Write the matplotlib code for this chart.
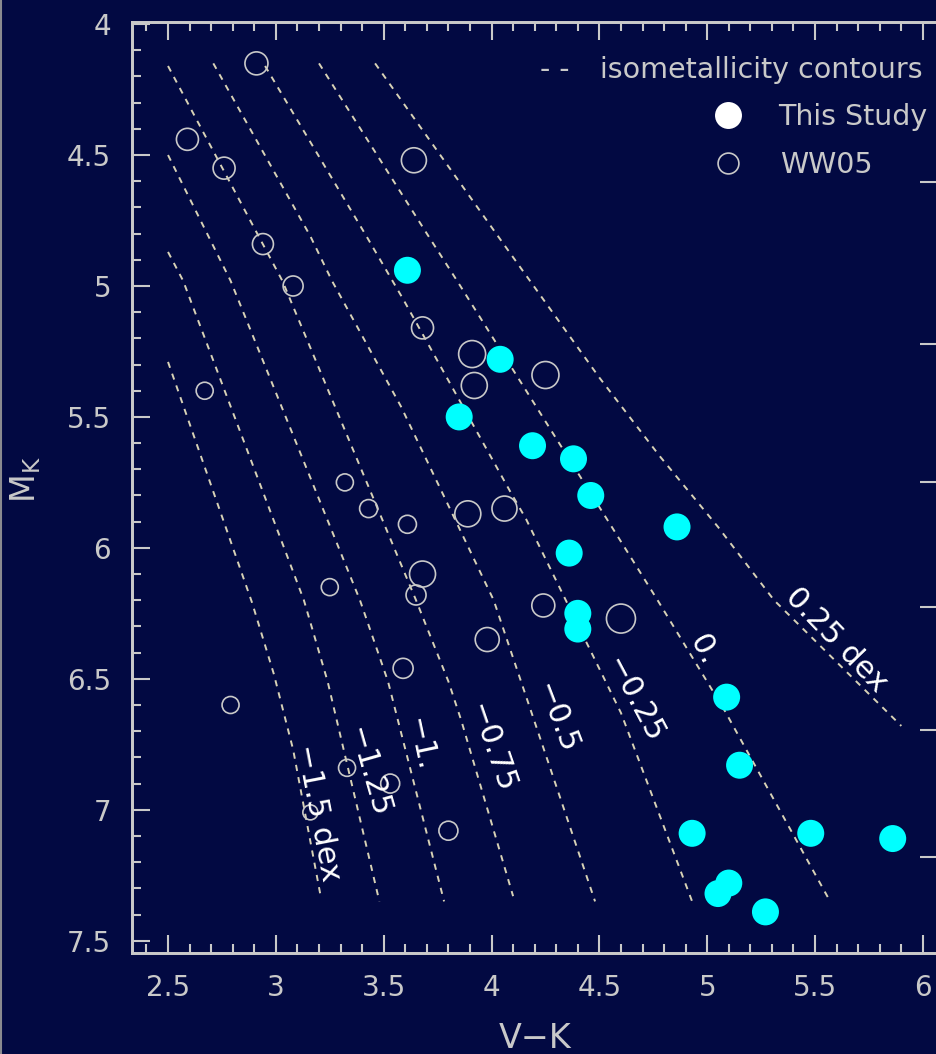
import matplotlib
matplotlib.use("Agg")
import matplotlib.pyplot as plt
from matplotlib.ticker import MultipleLocator, FuncFormatter
from matplotlib.lines import Line2D

# ------------------------------------------------------------------
# data
# ------------------------------------------------------------------
# This Study (filled cyan)
study_vk = [3.61, 4.04, 3.85, 4.19, 4.38, 4.46, 4.86, 4.36, 4.40, 4.40,
            5.09, 5.15, 4.93, 5.48, 5.86, 5.10, 5.05, 5.27]
study_mk = [4.94, 5.28, 5.50, 5.61, 5.66, 5.80, 5.92, 6.02, 6.25, 6.31,
            6.57, 6.83, 7.09, 7.09, 7.11, 7.28, 7.32, 7.39]

# WW05 (open circles), symbol size differs per star
ww_vk = [2.91, 2.59, 2.76, 3.64, 2.94, 3.08, 3.68, 3.91, 3.92, 4.25,
         2.67, 3.32, 3.43, 3.61, 3.89, 4.06, 3.68, 3.65, 3.25, 3.98,
         4.24, 4.60, 3.59, 2.79, 3.33, 3.53, 3.80, 3.16]
ww_mk = [4.15, 4.44, 4.55, 4.52, 4.84, 5.00, 5.16, 5.26, 5.38, 5.34,
         5.40, 5.75, 5.85, 5.91, 5.87, 5.85, 6.10, 6.18, 6.15, 6.35,
         6.22, 6.27, 6.46, 6.60, 6.84, 6.90, 7.08, 7.01]
ww_symsize = [1.15, 1.10, 1.10, 1.25, 1.05, 1.00, 1.10, 1.35, 1.30, 1.35,
              0.85, 0.85, 0.90, 0.90, 1.30, 1.25, 1.30, 1.00, 0.85, 1.20,
              1.15, 1.45, 1.00, 0.85, 0.85, 0.95, 0.95, 0.75]

# isometallicity contours ([Fe/H])
contour_feh = [-1.5, -1.25, -1.0, -0.75, -0.5, -0.25, 0.0, 0.25]
contour_vk = [
    [2.50, 2.89, 2.99, 3.08, 3.21],
    [2.50, 2.57, 3.13, 3.24, 3.48],
    [2.50, 2.79, 3.39, 3.52, 3.78],
    [2.50, 3.03, 3.65, 3.80, 3.86, 4.10],
    [2.71, 3.16, 3.26, 3.58, 3.83, 4.01, 4.48],
    [2.95, 3.42, 3.59, 4.09, 4.16, 4.60, 4.93],
    [3.20, 3.70, 3.84, 4.55, 4.77, 5.08, 5.57],
    [3.46, 4.03, 4.50, 4.78, 5.05, 5.31, 5.90],
]
contour_mk = [
    [5.29, 6.21, 6.48, 6.77, 7.34],
    [4.87, 4.98, 6.20, 6.51, 7.35],
    [4.50, 4.98, 6.20, 6.51, 7.35],
    [4.16, 4.98, 6.20, 6.51, 6.66, 7.33],
    [4.15, 4.81, 4.98, 5.46, 5.89, 6.20, 7.35],
    [4.16, 4.81, 5.05, 5.79, 5.89, 6.63, 7.35],
    [4.15, 4.80, 4.98, 5.91, 6.20, 6.62, 7.35],
    [4.15, 4.81, 5.35, 5.65, 5.92, 6.20, 6.68],
]

# contour labels
label_text = ["\u22121.5 dex", "\u22121.25", "\u22121.", "\u22120.75",
              "\u22120.5", "\u22120.25", "0.", "0.25 dex"]
label_vk = [3.195, 3.427, 3.668, 3.997, 4.299, 4.660, 4.980, 5.597]
label_mk = [7.012, 6.856, 6.753, 6.764, 6.650, 6.581, 6.390, 6.352]
label_rot = [-79, -74, -78, -71, -69, -62, -62, -46]

# unlabeled ticks on the right axis
right_ticks_mk = [4.603, 5.222, 5.749, 6.226, 6.696, 7.180]

# ------------------------------------------------------------------
# style
# ------------------------------------------------------------------
BG = "#020942"
FG = "#c9c9c9"
CONTOUR = "#d8d2b6"
CYAN = "#00ffff"

fig = plt.figure(figsize=(9.37, 10.54), dpi=100, facecolor=BG)
ax = fig.add_axes([132 / 937, 101 / 1054, 806 / 937, 931 / 1054])
ax.set_facecolor(BG)

# contours
for vk, mk in zip(contour_vk, contour_mk):
    ax.plot(vk, mk, color=CONTOUR, lw=1.4, dashes=(3.2, 3.2), zorder=2)

for txt, x, y, r in zip(label_text, label_vk, label_mk, label_rot):
    ax.text(x, y, txt, color="white", fontsize=22, rotation=r,
            rotation_mode="anchor", ha="center", va="center", zorder=5)

# points
ww_s = [(s * 20 * 0.72) ** 2 for s in ww_symsize]
ax.scatter(ww_vk, ww_mk, s=ww_s, facecolors="none", edgecolors=FG,
           linewidths=1.2, zorder=3)
ax.scatter(study_vk, study_mk, s=(27 * 0.72) ** 2, color=CYAN,
           edgecolors="none", zorder=4)

ax.set_xlim(2.333, 6.07)
ax.set_ylim(7.547, 3.992)

# axes & ticks
ax2 = ax.twinx()
ax2.set_ylim(ax.get_ylim())
ax2.set_yticks(right_ticks_mk)
ax2.tick_params(axis="y", which="major", direction="in", length=13,
                width=1.5, color=FG, labelright=False)
ax2.yaxis.set_minor_locator(plt.NullLocator())

ax.xaxis.set_major_locator(MultipleLocator(0.5))
ax.xaxis.set_minor_locator(MultipleLocator(0.1))
ax.yaxis.set_major_locator(MultipleLocator(0.5))
ax.yaxis.set_minor_locator(MultipleLocator(0.1))
fmt = FuncFormatter(lambda v, p: "%g" % v)
ax.xaxis.set_major_formatter(fmt)
ax.yaxis.set_major_formatter(fmt)

ax.tick_params(which="both", direction="in", top=True, right=False,
               color=FG, width=1.5, labelcolor=FG, labelsize=20, pad=15)
ax.tick_params(which="major", length=13)
ax.tick_params(which="minor", length=6.5)

for a in (ax, ax2):
    for sp in a.spines.values():
        sp.set_color(FG)
        sp.set_linewidth(2)

ax.set_xlabel("V\u2212K", color=FG, fontsize=24)
ax.xaxis.set_label_coords(0.5, -0.074)
ax.set_ylabel(r"$\mathregular{M_K}$", color=FG, fontsize=24)
ax.yaxis.set_label_coords(-0.11, 0.508)

# legend drawn by hand (IDL style)
ax.text(0.525, 0.9398, "- -", color=FG, fontsize=20.5, ha="center",
        va="baseline", transform=ax.transAxes)
ax.text(0.5806, 0.9398, "isometallicity contours", color=FG, fontsize=20.5,
        ha="left", va="baseline", transform=ax.transAxes)
ax.plot([0.7395], [0.9001], "o", ms=19.4, color="white", mec="none",
        transform=ax.transAxes, clip_on=False)
ax.text(0.8015, 0.8894, "This Study", color=FG, fontsize=20.5, ha="left",
        va="baseline", transform=ax.transAxes)
ax.plot([0.7395], [0.8485], "o", ms=15.0, mfc="none", mec=FG, mew=1.2,
        transform=ax.transAxes, clip_on=False)
ax.text(0.804, 0.8378, "WW05", color=FG, fontsize=20.5, ha="left",
        va="baseline", transform=ax.transAxes)

# thin border at left edge of the frame
fig.add_artist(Line2D([0.0012, 0.0012], [0, 1], color="#8a8a90", lw=1.5,
                      transform=fig.transFigure))

fig.savefig("out.png", dpi=100, facecolor=BG)
